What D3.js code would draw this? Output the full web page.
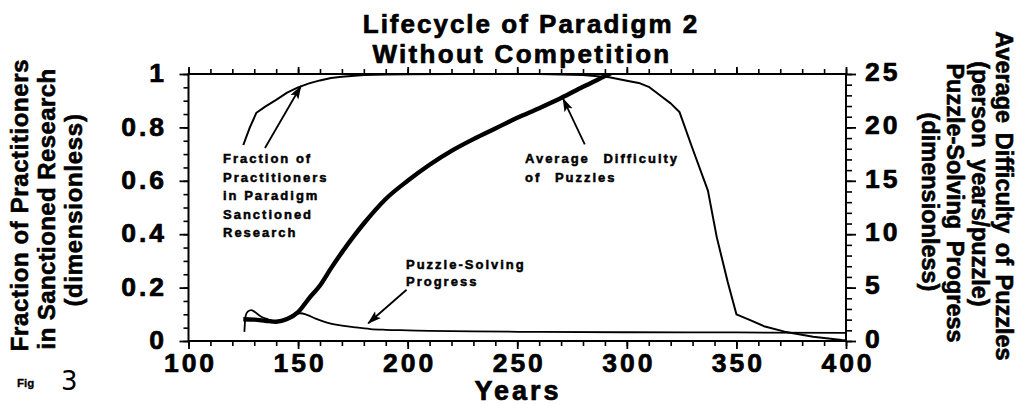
<!DOCTYPE html>
<html><head><meta charset="utf-8">
<script src="https://cdn.jsdelivr.net/npm/d3@7"></script>
<style>
html,body{margin:0;padding:0;background:#fff;}
svg{display:block;font-family:"Liberation Sans",Arial,Helvetica,sans-serif;}
</style></head><body>
<svg id="chart" width="1016" height="405"></svg>
<script>
// ---- data ----
const fractionYears  = [125, 128, 131, 135, 140, 145, 150, 155, 160, 165, 170, 180, 190, 200, 220, 240, 260, 280, 292, 300, 306, 310, 316, 320, 324, 330, 337, 341, 346, 350, 356, 363, 372, 385, 398, 400];
const fractionValues = [0.734, 0.80, 0.855, 0.878, 0.903, 0.93, 0.95, 0.965, 0.976, 0.985, 0.99, 0.996, 0.998, 0.999, 1.0, 1.0, 1.0, 0.996, 0.988, 0.975, 0.965, 0.952, 0.915, 0.89, 0.858, 0.72, 0.563, 0.39, 0.222, 0.10, 0.079, 0.054, 0.035, 0.016, 0.004, 0.003];

const difficultyYears  = [125, 130, 135, 140, 145, 150, 155, 160, 165, 170, 175, 180, 190, 200, 210, 220, 230, 240, 250, 260, 270, 280, 290, 300];
const difficultyValues = [2.03, 2.0, 1.9, 1.8, 2.05, 2.7, 4.0, 5.2, 6.8, 8.3, 9.7, 11.0, 13.3, 15.0, 16.5, 17.8, 18.9, 19.9, 20.9, 21.8, 22.75, 23.8, 24.8, 25.8];

const puzzleYears  = [125.5, 126, 127, 128.6, 130, 133, 136, 140, 144, 148, 151, 154, 158, 164, 170, 176, 183, 190, 200, 210, 230, 260, 300, 350, 400];
const puzzleValues = [0.85, 2.3, 2.75, 2.9, 2.75, 2.3, 2.05, 1.85, 2.05, 2.45, 2.6, 2.45, 2.1, 1.67, 1.45, 1.28, 1.12, 1.05, 1.0, 0.95, 0.9, 0.85, 0.82, 0.8, 0.77];

const xTickLabels = [100, 150, 200, 250, 300, 350, 400];
const leftTickLabels = [0, 0.2, 0.4, 0.6, 0.8, 1];
const rightTickLabels = [0, 5, 10, 15, 20, 25];

// ---- layout ----
const W = 1016, H = 405;
const P = {left: 188.5, right: 846, top: 74, bottom: 341};
const x  = d3.scaleLinear().domain([100, 400]).range([P.left, P.right]);
const yL = d3.scaleLinear().domain([0, 1]).range([P.bottom, P.top]);
const yR = d3.scaleLinear().domain([0, 25]).range([P.bottom, P.top]);

const svg = d3.select("#chart");
svg.append("rect").attr("width", W).attr("height", H).attr("fill", "#fff");

const defs = svg.append("defs");
defs.append("clipPath").attr("id", "plotclip").append("rect")
  .attr("x", P.left).attr("y", P.top - 1).attr("width", P.right - P.left).attr("height", P.bottom - P.top + 1);
defs.append("marker").attr("id", "arrow").attr("markerUnits", "userSpaceOnUse")
  .attr("viewBox", "0 -5 14 10").attr("refX", 13).attr("refY", 0)
  .attr("markerWidth", 14).attr("markerHeight", 10).attr("orient", "auto")
  .append("path").attr("d", "M0,-4.5L14,0L0,4.5L3,0Z").attr("fill", "#000");

const tickFont = {size: 26.5, ls: 3};

function styleAxis(g, width) {
  g.select(".domain").remove();
  g.selectAll(".tick line").attr("stroke", "#000").attr("stroke-width", width);
}
function heavy(sel, w) {
  sel.attr("stroke", "#000").attr("stroke-width", w).attr("stroke-linejoin", "round").attr("paint-order", "stroke");
}

// minor ticks
svg.append("g").attr("transform", `translate(0,${P.bottom})`)
  .call(d3.axisBottom(x).tickValues(d3.range(100, 401, 10)).tickSize(5).tickFormat(""))
  .call(g => styleAxis(g, 1.6));
svg.append("g").attr("transform", `translate(0,${P.top})`)
  .call(d3.axisTop(x).tickValues(d3.range(100, 401, 10)).tickSize(5).tickFormat(""))
  .call(g => styleAxis(g, 1.6));
svg.append("g").attr("transform", `translate(${P.left},0)`)
  .call(d3.axisLeft(yL).tickValues(d3.range(0, 1.0001, 0.05)).tickSize(5).tickFormat(""))
  .call(g => styleAxis(g, 1.6));
svg.append("g").attr("transform", `translate(${P.right},0)`)
  .call(d3.axisRight(yR).tickValues(d3.range(0, 25.001, 1)).tickSize(6).tickFormat(""))
  .call(g => styleAxis(g, 1.6));

// major ticks with labels
const gx = svg.append("g").attr("transform", `translate(0,${P.bottom})`)
  .call(d3.axisBottom(x).tickValues(xTickLabels).tickSize(8).tickPadding(4.5).tickFormat(d3.format("d")))
  .call(g => styleAxis(g, 1.8));
svg.append("g").attr("transform", `translate(0,${P.top})`)
  .call(d3.axisTop(x).tickValues(xTickLabels).tickSize(7).tickFormat(""))
  .call(g => styleAxis(g, 1.8));
const gl = svg.append("g").attr("transform", `translate(${P.left},0)`)
  .call(d3.axisLeft(yL).tickValues(leftTickLabels).tickSize(9).tickPadding(12.5).tickFormat(d => d === 0 ? "0" : d === 1 ? "1" : d3.format(".1f")(d)))
  .call(g => styleAxis(g, 1.8));
const gr = svg.append("g").attr("transform", `translate(${P.right},0)`)
  .call(d3.axisRight(yR).tickValues(rightTickLabels).tickSize(10).tickPadding(9).tickFormat(d3.format("d")))
  .call(g => styleAxis(g, 1.8));

[gx, gl, gr].forEach(g => g.selectAll(".tick text")
  .attr("fill", "#000").attr("font-size", tickFont.size).attr("font-weight", "bold")
  .attr("font-family", "'Liberation Sans', Arial, sans-serif")
  .style("letter-spacing", tickFont.ls + "px")
  .call(s => heavy(s, 0.7)));
gx.selectAll(".tick text").attr("dx", tickFont.ls / 2);
gl.selectAll(".tick text").attr("dy", "0.29em");
gr.selectAll(".tick text").attr("dy", "0.24em");

// frame
svg.append("rect").attr("x", P.left).attr("y", P.top)
  .attr("width", P.right - P.left).attr("height", P.bottom - P.top)
  .attr("fill", "none").attr("stroke", "#000").attr("stroke-width", 2);

// ---- series ----
const plot = svg.append("g").attr("clip-path", "url(#plotclip)");
const fracLine = d3.line().x((d, i) => x(fractionYears[i])).y(d => yL(d)).curve(d3.curveLinear);
const diffLine = d3.line().x((d, i) => x(difficultyYears[i])).y(d => yR(d)).curve(d3.curveMonotoneX);
const puzLine  = d3.line().x((d, i) => x(puzzleYears[i])).y(d => yR(d)).curve(d3.curveMonotoneX);

plot.append("path").attr("d", fracLine(fractionValues))
  .attr("fill", "none").attr("stroke", "#000").attr("stroke-width", 2).attr("stroke-linejoin", "round");
plot.append("path").attr("d", puzLine(puzzleValues))
  .attr("fill", "none").attr("stroke", "#000").attr("stroke-width", 1.8).attr("stroke-linejoin", "round");
plot.append("path").attr("d", diffLine(difficultyValues))
  .attr("fill", "none").attr("stroke", "#000").attr("stroke-width", 4.4).attr("stroke-linejoin", "round");

// ---- annotations ----
const annFont = {size: 13, ls: 2};
function annText(lines, x0, y0, dy, ws) {
  const t = svg.append("text").attr("font-size", annFont.size).attr("font-weight", "bold")
    .style("letter-spacing", annFont.ls + "px").style("word-spacing", (ws || 0) + "px").attr("fill", "#000");
  heavy(t, 0.5);
  lines.forEach((s, i) => t.append("tspan").attr("x", x0).attr("y", y0 + i * dy).text(s));
}
annText(["Fraction of", "Practitioners", "in Paradigm", "Sanctioned", "Research"], 223, 163, 18.6, 0);
annText(["Average Difficulty", "of Puzzles"], 525, 163, 18.7, 8);
annText(["Puzzle-Solving", "Progress"], 406, 269, 16.5, 0);

// arrows (tail -> tip, data coordinates)
const arrows = [
  {from: [134.9, 0.723], to: [151.3, 0.955], axis: yL},
  {from: [280.8, 18.4], to: [270.9, 22.7], axis: yR},
  {from: [199.5, 4.8], to: [182.0, 1.66], axis: yR}
];
arrows.forEach(a => {
  svg.append("line")
    .attr("x1", x(a.from[0])).attr("y1", a.axis(a.from[1]))
    .attr("x2", x(a.to[0])).attr("y2", a.axis(a.to[1]))
    .attr("stroke", "#000").attr("stroke-width", 1.8).attr("marker-end", "url(#arrow)");
});

// ---- titles ----
const title = svg.append("g").attr("font-weight", "bold").attr("font-size", 26).attr("fill", "#000").attr("text-anchor", "middle");
heavy(title, 0.7);
title.append("text").attr("x", 531).attr("y", 33).style("letter-spacing", "2px").text("Lifecycle of Paradigm 2");
title.append("text").attr("x", 522).attr("y", 63).style("letter-spacing", "2.3px").text("Without Competition");

heavy(svg.append("text").attr("x", 518).attr("y", 400).attr("text-anchor", "middle")
  .attr("font-size", 27).attr("font-weight", "bold").style("letter-spacing", "3px").text("Years"), 0.7);

// left axis title
const leftTitle = [
  {t: "Fraction of Practitioners", x: 28, y: 205, ls: 0.6},
  {t: "in Sanctioned Research", x: 55, y: 209, ls: 0.4},
  {t: "(dimensionless)", x: 82, y: 210, ls: 0.7}
];
leftTitle.forEach(l => heavy(svg.append("text")
  .attr("transform", `translate(${l.x},${l.y}) rotate(-90)`)
  .attr("text-anchor", "middle").attr("font-size", 24).attr("font-weight", "bold")
  .style("letter-spacing", l.ls + "px").text(l.t), 0.6));

// right axis title
const rightTitle = [
  {t: "Average Difficulty of Puzzles", x: 996, y: 196, ws: 3},
  {t: "(person years/puzzle)", x: 972, y: 184, ws: 5},
  {t: "Puzzle-Solving Progress", x: 947, y: 203, ws: 5},
  {t: "(dimensionless)", x: 922, y: 202, ws: 0}
];
rightTitle.forEach(l => heavy(svg.append("text")
  .attr("transform", `translate(${l.x},${l.y}) rotate(90)`)
  .attr("text-anchor", "middle").attr("font-size", 23.5).attr("font-weight", "bold")
  .style("word-spacing", l.ws + "px").text(l.t), 0.6));

// figure label
heavy(svg.append("text").attr("x", 17).attr("y", 387).attr("font-size", 11.5).attr("font-weight", "bold").text("Fig"), 0.3);
svg.append("text").attr("x", 61).attr("y", 390).attr("font-size", 26).attr("font-family", "'DejaVu Sans', sans-serif").text("3");
</script>
</body></html>
